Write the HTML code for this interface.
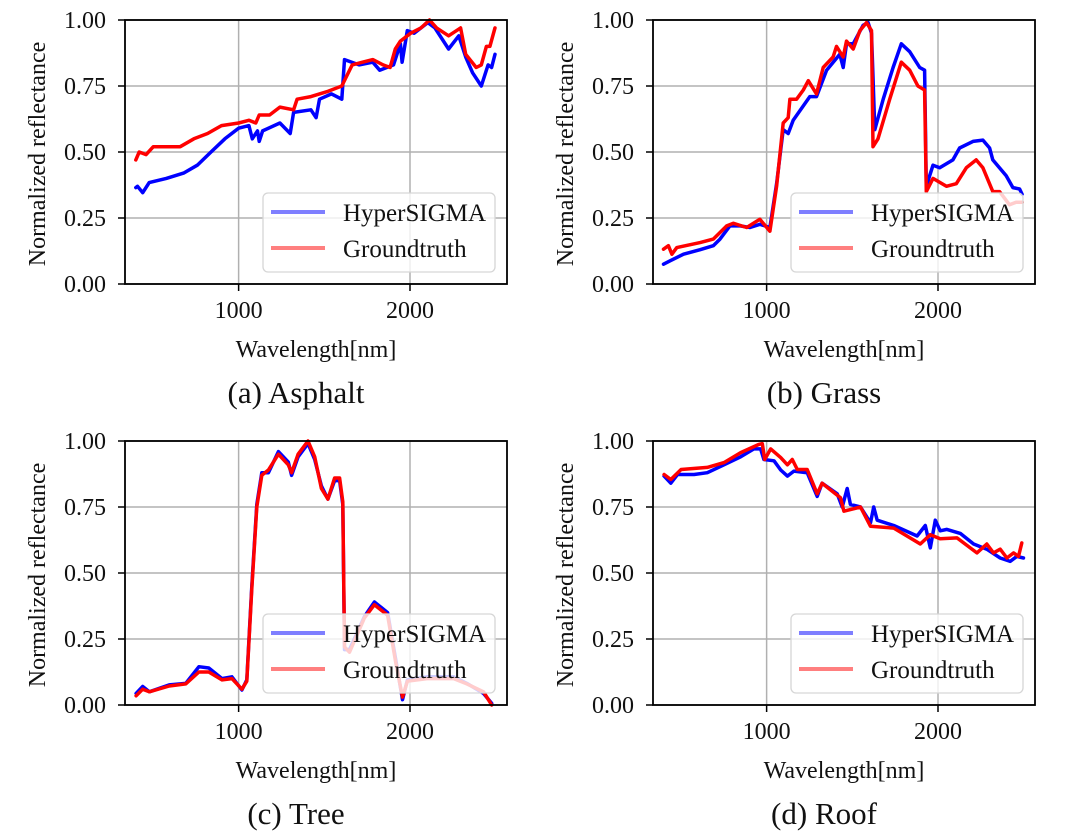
<!DOCTYPE html>
<html><head><meta charset="utf-8">
<style>
html,body{margin:0;padding:0;background:#fff;}
svg{display:block;font-family:"Liberation Serif",serif;}
</style></head>
<body>
<svg id="fig" width="1080" height="834" viewBox="0 0 1080 834" xmlns="http://www.w3.org/2000/svg"></svg>
<script>
// ---- data ----
const xTicks = [1000, 2000];
const yTicks = [0, 0.25, 0.5, 0.75, 1.0];
const yTickLabels = ["0.00", "0.25", "0.50", "0.75", "1.00"];
const seriesNames = ["HyperSIGMA", "Groundtruth"];
const captions = ["(a) Asphalt", "(b) Grass", "(c) Tree", "(d) Roof"];

const asphaltHyperWl = [400,410,440,478,578,679,759,839,920,1000,1060,1080,1110,1120,1140,1241,1301,1321,1422,1452,1472,1542,1602,1618,1703,1783,1823,1904,1944,1954,1984,2024,2104,2145,2225,2285,2325,2365,2416,2456,2476,2496];
const asphaltHyperVal = [0.365,0.37,0.346,0.384,0.40,0.42,0.45,0.50,0.55,0.59,0.60,0.55,0.58,0.54,0.58,0.61,0.57,0.65,0.66,0.63,0.70,0.72,0.70,0.85,0.83,0.84,0.81,0.83,0.91,0.84,0.96,0.95,0.99,0.97,0.89,0.94,0.86,0.80,0.75,0.83,0.82,0.87];
const asphaltTruthWl = [400,420,460,502,578,659,739,819,900,1000,1060,1100,1120,1181,1241,1321,1341,1422,1522,1602,1663,1723,1783,1843,1884,1914,1944,2004,2064,2114,2155,2225,2295,2325,2386,2416,2446,2466,2496];
const asphaltTruthVal = [0.47,0.50,0.49,0.52,0.52,0.52,0.55,0.57,0.60,0.61,0.62,0.61,0.64,0.64,0.67,0.66,0.70,0.71,0.73,0.75,0.83,0.84,0.85,0.83,0.82,0.89,0.92,0.95,0.97,1.00,0.97,0.94,0.97,0.87,0.82,0.83,0.90,0.90,0.97];

const grassHyperWl = [398,437,515,612,689,728,786,845,903,961,1019,1058,1097,1126,1155,1252,1291,1350,1427,1447,1466,1505,1563,1592,1612,1631,1680,1738,1786,1835,1893,1922,1932,1971,2010,2087,2126,2204,2262,2301,2320,2398,2437,2476,2491];
const grassHyperVal = [0.075,0.088,0.113,0.13,0.145,0.17,0.22,0.22,0.214,0.226,0.214,0.38,0.585,0.57,0.62,0.71,0.71,0.81,0.87,0.82,0.91,0.91,0.98,0.99,0.95,0.585,0.70,0.82,0.91,0.88,0.82,0.81,0.37,0.45,0.44,0.47,0.515,0.54,0.545,0.515,0.47,0.41,0.365,0.36,0.34];
const grassTruthWl = [398,427,447,476,612,689,728,767,806,884,922,961,1019,1058,1097,1126,1136,1175,1214,1243,1291,1330,1388,1408,1447,1466,1505,1544,1583,1612,1621,1650,1718,1786,1835,1883,1922,1932,1971,2049,2107,2165,2223,2262,2320,2359,2417,2456,2491];
const grassTruthVal = [0.132,0.145,0.113,0.138,0.157,0.17,0.195,0.22,0.23,0.214,0.23,0.245,0.20,0.37,0.61,0.63,0.70,0.70,0.735,0.77,0.72,0.82,0.86,0.90,0.86,0.92,0.89,0.96,0.99,0.96,0.52,0.55,0.70,0.84,0.81,0.75,0.735,0.35,0.40,0.37,0.38,0.44,0.47,0.44,0.35,0.35,0.30,0.31,0.31];

const treeHyperWl = [402,440,479,595,691,768,826,903,961,1019,1048,1077,1106,1135,1174,1232,1290,1309,1347,1405,1444,1483,1521,1560,1589,1608,1618,1647,1734,1792,1869,1917,1956,1985,2100,2255,2332,2429,2477];
const treeHyperVal = [0.044,0.07,0.05,0.076,0.082,0.145,0.14,0.10,0.107,0.057,0.095,0.45,0.76,0.88,0.88,0.96,0.92,0.87,0.94,0.99,0.93,0.83,0.78,0.85,0.85,0.76,0.21,0.21,0.335,0.39,0.35,0.17,0.02,0.095,0.107,0.107,0.082,0.044,0.006];
const treeTruthWl = [402,440,479,595,691,768,826,903,961,1019,1048,1077,1106,1135,1174,1232,1290,1309,1347,1405,1444,1483,1521,1560,1589,1608,1618,1647,1734,1792,1869,1917,1956,1985,2100,2255,2332,2429,2477];
const treeTruthVal = [0.035,0.06,0.05,0.072,0.08,0.125,0.125,0.095,0.10,0.06,0.09,0.44,0.75,0.87,0.89,0.95,0.91,0.88,0.95,1.00,0.94,0.82,0.78,0.86,0.86,0.77,0.22,0.20,0.33,0.38,0.34,0.16,0.03,0.09,0.10,0.10,0.08,0.05,0.0];

const roofHyperWl = [402,441,480,577,654,751,849,926,965,984,1043,1082,1121,1159,1237,1295,1324,1412,1441,1470,1489,1548,1606,1625,1645,1742,1878,1926,1955,1984,2013,2052,2130,2208,2285,2363,2421,2460,2499];
const roofHyperVal = [0.867,0.84,0.873,0.873,0.88,0.91,0.94,0.97,0.97,0.93,0.925,0.89,0.867,0.886,0.88,0.79,0.84,0.80,0.75,0.82,0.76,0.75,0.69,0.75,0.70,0.68,0.64,0.68,0.595,0.70,0.66,0.665,0.65,0.61,0.59,0.557,0.544,0.563,0.557];
const roofTruthWl = [402,441,501,654,751,849,955,975,989,1024,1082,1121,1150,1179,1237,1295,1324,1431,1451,1548,1606,1742,1897,1955,2013,2111,2227,2285,2324,2363,2402,2441,2470,2489];
const roofTruthVal = [0.873,0.854,0.892,0.90,0.918,0.956,0.987,0.99,0.93,0.97,0.937,0.91,0.93,0.892,0.892,0.80,0.84,0.785,0.734,0.75,0.677,0.67,0.61,0.645,0.63,0.633,0.576,0.61,0.576,0.59,0.557,0.576,0.563,0.614];

const panels = [
  {id:"asphalt", L:125, R:507, T:20, B:284, h:[asphaltHyperWl,asphaltHyperVal], g:[asphaltTruthWl,asphaltTruthVal]},
  {id:"grass", L:653, R:1035, T:20, B:284, h:[grassHyperWl,grassHyperVal], g:[grassTruthWl,grassTruthVal]},
  {id:"tree", L:125, R:507, T:441, B:705, h:[treeHyperWl,treeHyperVal], g:[treeTruthWl,treeTruthVal]},
  {id:"roof", L:653, R:1035, T:441, B:705, h:[roofHyperWl,roofHyperVal], g:[roofTruthWl,roofTruthVal]}
];
const xMin = 337, xMax = 2566;

const NS = "http://www.w3.org/2000/svg";
const svg = document.getElementById("fig");
function mk(tag, attrs, parent, text){
  const e = document.createElementNS(NS, tag);
  for (const k in attrs) e.setAttribute(k, attrs[k]);
  if (text !== undefined) e.textContent = text;
  (parent||svg).appendChild(e);
  return e;
}

panels.forEach((p, i) => {
  const sx = w => p.L + (w - xMin) / (xMax - xMin) * (p.R - p.L);
  const sy = v => p.B - v * (p.B - p.T);
  const g = mk("g", {});
  
  

  xTicks.forEach(t => {
    const l = mk("line", {x1:sx(t), x2:sx(t), y1:p.T, y2:p.B, stroke:"#b0b0b0", "stroke-width":1.5}, g);
    
    
  });
  yTicks.forEach(t => {
    const l = mk("line", {x1:p.L, x2:p.R, y1:sy(t), y2:sy(t), stroke:"#b0b0b0", "stroke-width":1.5}, g);
    
    
  });

  [[p.h, "#0000ff", seriesNames[0]], [p.g, "#ff0000", seriesNames[1]]].forEach(([d, c, n]) => {
    const pts = d[0].map((w, k) => sx(w).toFixed(1) + "," + sy(d[1][k]).toFixed(1)).join(" ");
    const pl = mk("polyline", {points:pts, fill:"none", stroke:c, "stroke-width":3.5, "stroke-linejoin":"round", "stroke-linecap":"round"}, g);
    
    
  });

  const fr = mk("rect", {x:p.L, y:p.T, width:p.R-p.L, height:p.B-p.T, fill:"none", stroke:"#000", "stroke-width":1.8}, g);
  
  

  xTicks.forEach(t => {
    mk("line", {x1:sx(t), x2:sx(t), y1:p.B, y2:p.B+7, stroke:"#000", "stroke-width":1.5}, g);
    const tx = mk("text", {x:sx(t), y:p.B+34, "text-anchor":"middle", "font-size":24, fill:"#111"}, g, String(t));
    
    
  });
  yTicks.forEach((t, k) => {
    mk("line", {x1:p.L-7, x2:p.L, y1:sy(t), y2:sy(t), stroke:"#000", "stroke-width":1.5}, g);
    const tx = mk("text", {x:p.L-19, y:sy(t)+8, "text-anchor":"end", "font-size":24, fill:"#111"}, g, yTickLabels[k]);
    
    
  });

  const cx = (p.L + p.R) / 2;
  const xt = mk("text", {x:cx, y:p.B+73, "text-anchor":"middle", "font-size":24, fill:"#111"}, g, "Wavelength[nm]");
  
  
  const yc = (p.T + p.B) / 2 + 2;
  const yx = p.L - 80;
  const yt = mk("text", {x:yx, y:yc, "text-anchor":"middle", "font-size":24, fill:"#111", transform:`rotate(-90 ${yx} ${yc})`}, g, "Normalized reflectance");
  
  

  const cap = mk("text", {x:cx-20, y:p.B+119, "text-anchor":"middle", "font-size":31, fill:"#111"}, g, captions[i]);
  
  

  const lx = p.L + 138, ly = p.B - 91;
  const lg = mk("g", {}, g);
  
  
  mk("rect", {x:lx, y:ly, width:232, height:79, rx:5, fill:"rgba(255,255,255,0.8)", stroke:"#d6d6d6", "stroke-width":1.3}, lg);
  [["#0000ff", seriesNames[0], 19], ["#ff0000", seriesNames[1], 55]].forEach(([c, n, dy]) => {
    const e = mk("g", {}, lg);
    
    
    mk("line", {x1:lx+8, x2:lx+62, y1:ly+dy, y2:ly+dy, stroke:c, "stroke-opacity":0.5, "stroke-width":4}, e);
    mk("text", {x:lx+80, y:ly+dy+9, "font-size":25, fill:"#111"}, e, n);
  });
});
</script>
</body></html>
